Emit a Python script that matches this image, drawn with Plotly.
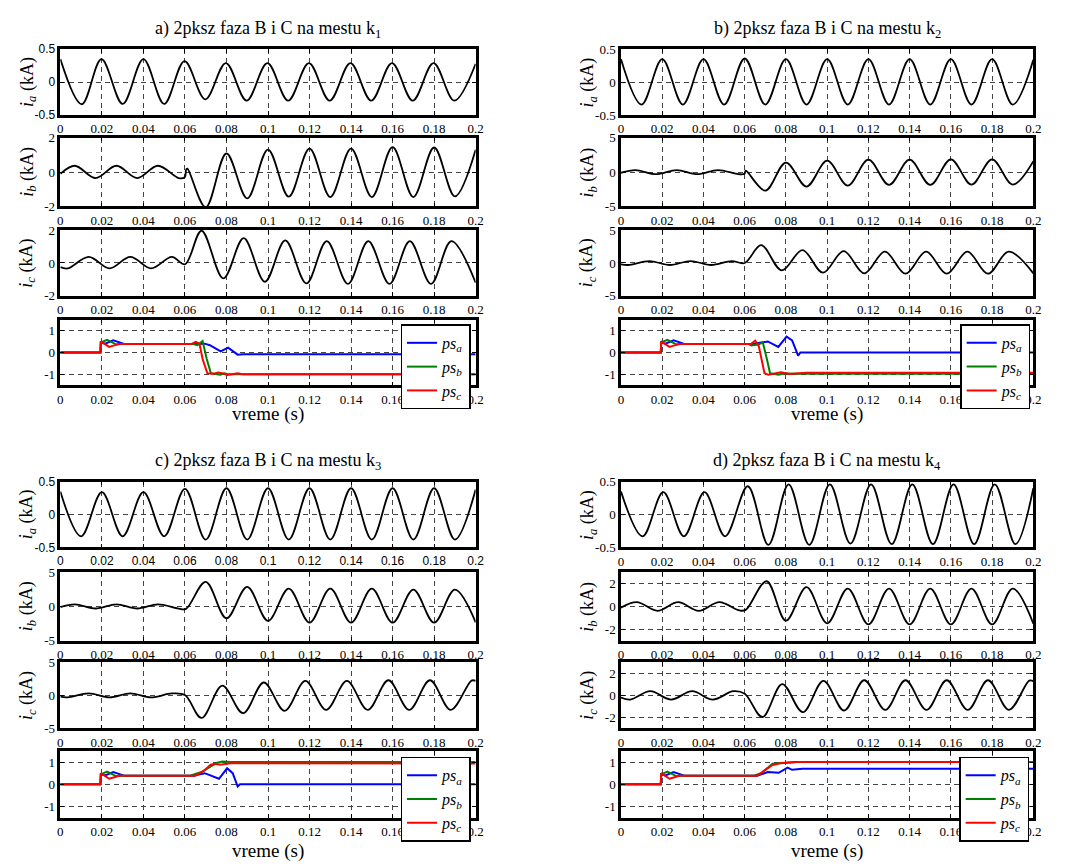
import plotly.graph_objects as go

# ------------------------------------------------------------------ data
x_tick_vals = [0, 0.02, 0.04, 0.06, 0.08, 0.1, 0.12, 0.14, 0.16, 0.18, 0.2]
x_tick_labels = ["0", "0.02", "0.04", "0.06", "0.08", "0.1", "0.12", "0.14", "0.16", "0.18", "0.2"]

panel_titles = [
    "a) 2pksz faza B i C na mestu k<sub>1</sub>",
    "b) 2pksz faza B i C na mestu k<sub>2</sub>",
    "c) 2pksz faza B i C na mestu k<sub>3</sub>",
    "d) 2pksz faza B i C na mestu k<sub>4</sub>",
]
current_labels = [
    "<i>i</i><sub><i>a</i></sub> (kA)",
    "<i>i</i><sub><i>b</i></sub> (kA)",
    "<i>i</i><sub><i>c</i></sub> (kA)",
]
ps_names = ["<i>ps</i><sub><i>a</i></sub>", "<i>ps</i><sub><i>b</i></sub>", "<i>ps</i><sub><i>c</i></sub>"]
x_label = "vreme (s)"

# y-axis limits / ticks per panel (ia, ib, ic)
ia_lim = [0.5, 0.5, 0.5, 0.5]
ib_lim = [2, 5, 5, 3]
ic_lim = [2, 5, 5, 3]
ia_ticks = [-0.5, 0, 0.5]
ia_tick_labels = ["-0.5", "0", "0.5"]
ibc_ticks = [[-2, 0, 2], [-5, 0, 5], [-5, 0, 5], [-2, 0, 2]]
ibc_tick_labels = [["-2", "0", "2"], ["-5", "0", "5"], ["-5", "0", "5"], ["-2", "0", "2"]]
ps_lim = 1.5
ps_ticks = [-1, 0, 1]
ps_tick_labels = ["-1", "0", "1"]

# ---- panel a (k1)
a_ia_t = [0, 0.0103, 0.0198, 0.030, 0.040, 0.050, 0.0598, 0.0698, 0.0797, 0.0897, 0.0997,
          0.1097, 0.1197, 0.1297, 0.1397, 0.1497, 0.1597, 0.1697, 0.1797, 0.1897, 0.2]
a_ia_v = [0.35, -0.335, 0.35, -0.33, 0.35, -0.33, 0.32, -0.26, 0.29, -0.28, 0.29,
          -0.28, 0.29, -0.28, 0.29, -0.28, 0.29, -0.28, 0.29, -0.28, 0.28]
a_ib_t = [0, 0.007, 0.017, 0.027, 0.037, 0.047, 0.057, 0.0599, 0.0606, 0.0612, 0.070,
          0.080, 0.090, 0.100, 0.110, 0.120, 0.130, 0.140, 0.150, 0.160, 0.170, 0.180, 0.190, 0.200]
a_ib_v = [-0.1, 0.37, -0.35, 0.37, -0.35, 0.37, -0.35, -0.3, 0.15, 0.2, -2.05,
          1.08, -1.53, 1.31, -1.43, 1.37, -1.45, 1.37, -1.45, 1.45, -1.45, 1.43, -1.41, 1.3]
a_ic_t = [0, 0.0035, 0.0137, 0.0237, 0.0337, 0.0437, 0.0537, 0.0600, 0.068, 0.0785, 0.0883,
          0.0985, 0.1083, 0.1185, 0.1283, 0.1385, 0.1483, 0.1585, 0.1683, 0.1785, 0.1883, 0.2]
a_ic_v = [-0.25, -0.33, 0.37, -0.33, 0.37, -0.33, 0.37, -0.08, 1.96, -0.94, 1.51,
          -1.14, 1.37, -1.24, 1.33, -1.27, 1.33, -1.27, 1.33, -1.27, 1.33, -1.2]
a_psa_t = [0, 0.0193, 0.0195, 0.0215, 0.0255, 0.029, 0.031, 0.064, 0.0695, 0.072, 0.0772, 0.0808, 0.0854, 0.088, 0.2]
a_psa_v = [0, 0, 0.45, 0.4, 0.55, 0.42, 0.38, 0.38, 0.4, 0.33, 0.05, 0.22, -0.1, -0.08, -0.08]
a_psb_t = [0, 0.0193, 0.0195, 0.0225, 0.027, 0.029, 0.064, 0.066, 0.0685, 0.0705, 0.0725, 0.075, 0.077, 0.079, 0.081, 0.2]
a_psb_v = [0, 0, 0.45, 0.57, 0.36, 0.38, 0.38, 0.33, 0.52, -0.3, -0.95, -0.98, -1.02, -0.95, -1.0, -1.0]
a_psc_t = [0, 0.0193, 0.0195, 0.0235, 0.026, 0.028, 0.063, 0.0652, 0.067, 0.0685, 0.0708, 0.074,
           0.076, 0.0785, 0.0805, 0.0835, 0.0855, 0.088, 0.2]
a_psc_v = [0, 0, 0.5, 0.25, 0.32, 0.38, 0.38, 0.48, 0.4, -0.3, -0.95, -0.97,
           -0.92, -0.96, -1.03, -0.97, -0.95, -1.0, -1.0]

# ---- panel b (k2)
b_ia_t = [0, 0.01, 0.02, 0.03, 0.04, 0.05, 0.06, 0.07, 0.08, 0.09, 0.1,
          0.11, 0.12, 0.13, 0.14, 0.15, 0.16, 0.17, 0.18, 0.19, 0.2]
b_ia_v = [0.35, -0.34, 0.35, -0.34, 0.35, -0.34, 0.36, -0.34, 0.35, -0.34, 0.35,
          -0.34, 0.35, -0.34, 0.35, -0.34, 0.35, -0.34, 0.35, -0.34, 0.34]
b_ib_t = [0, 0.007, 0.017, 0.027, 0.037, 0.047, 0.057, 0.0599, 0.0605, 0.070, 0.080, 0.090,
          0.100, 0.110, 0.120, 0.130, 0.140, 0.150, 0.160, 0.170, 0.180, 0.190, 0.200]
b_ib_v = [-0.1, 0.3, -0.3, 0.3, -0.3, 0.3, -0.3, -0.25, 0.2, -2.7, 1.37, -2.1,
          1.67, -1.96, 1.81, -1.86, 1.81, -1.86, 1.86, -1.81, 1.86, -1.81, 1.6]
b_ic_t = [0, 0.0035, 0.0137, 0.0237, 0.0337, 0.0437, 0.0537, 0.060, 0.068, 0.078, 0.088,
          0.098, 0.108, 0.118, 0.128, 0.138, 0.148, 0.158, 0.168, 0.178, 0.188, 0.2]
b_ic_v = [-0.2, -0.3, 0.3, -0.3, 0.3, -0.3, 0.3, 0.0, 2.7, -1.13, 1.96,
          -1.47, 1.81, -1.57, 1.72, -1.62, 1.72, -1.62, 1.72, -1.62, 1.72, -1.58]
b_psa_t = [0, 0.0193, 0.0195, 0.0215, 0.0255, 0.029, 0.031, 0.064, 0.0665, 0.0712, 0.0763, 0.0803, 0.083, 0.0859, 0.087, 0.2]
b_psa_v = [0, 0, 0.45, 0.4, 0.55, 0.42, 0.38, 0.38, 0.42, 0.5, 0.25, 0.72, 0.55, -0.15, 0.0, 0.0]
b_psb_t = [0, 0.0193, 0.0195, 0.0225, 0.027, 0.029, 0.062, 0.0632, 0.0665, 0.0688, 0.0705, 0.0723, 0.0765, 0.079, 0.083, 0.2]
b_psb_v = [0, 0, 0.45, 0.57, 0.36, 0.38, 0.38, 0.32, 0.36, 0.45, -0.2, -0.95, -1.02, -0.95, -0.97, -0.97]
b_psc_t = [0, 0.0193, 0.0195, 0.0235, 0.026, 0.028, 0.063, 0.0651, 0.0668, 0.0696, 0.0715, 0.0745, 0.0776, 0.0815, 0.09, 0.2]
b_psc_v = [0, 0, 0.5, 0.25, 0.32, 0.38, 0.38, 0.53, 0.3, -0.95, -1.02, -0.97, -0.9, -0.98, -0.93, -0.93]

# ---- panel c (k3)
c_ia_t = [0, 0.01, 0.02, 0.03, 0.04, 0.05, 0.06, 0.07, 0.08, 0.09, 0.1,
          0.11, 0.12, 0.13, 0.14, 0.15, 0.16, 0.17, 0.18, 0.19, 0.2]
c_ia_v = [0.35, -0.33, 0.34, -0.33, 0.34, -0.33, 0.39, -0.38, 0.40, -0.38, 0.40,
          -0.38, 0.40, -0.38, 0.40, -0.38, 0.40, -0.38, 0.40, -0.38, 0.38]
c_ib_t = [0, 0.007, 0.017, 0.027, 0.037, 0.047, 0.057, 0.0605, 0.070, 0.080, 0.090,
          0.100, 0.110, 0.120, 0.130, 0.140, 0.150, 0.160, 0.170, 0.180, 0.190, 0.200]
c_ib_v = [-0.1, 0.3, -0.3, 0.3, -0.3, 0.3, -0.3, -0.35, 3.58, -1.72, 2.84,
          -2.1, 2.6, -2.35, 2.6, -2.35, 2.6, -2.35, 2.45, -2.35, 2.45, -2.3]
c_ic_t = [0, 0.0035, 0.0137, 0.0237, 0.0337, 0.0437, 0.0537, 0.0600, 0.068, 0.078, 0.088,
          0.098, 0.108, 0.118, 0.128, 0.138, 0.148, 0.158, 0.168, 0.178, 0.188, 0.198, 0.2]
c_ic_v = [-0.2, -0.3, 0.3, -0.3, 0.3, -0.3, 0.3, 0.05, -3.43, 1.47, -2.7,
          1.96, -2.35, 2.2, -2.2, 2.2, -2.2, 2.3, -2.2, 2.3, -2.2, 2.25, 2.2]
c_psa_t = [0, 0.0193, 0.0195, 0.0215, 0.0255, 0.029, 0.031, 0.064, 0.0695, 0.0764, 0.0803, 0.083, 0.0854, 0.0865, 0.2]
c_psa_v = [0, 0, 0.45, 0.4, 0.55, 0.42, 0.38, 0.38, 0.5, 0.25, 0.72, 0.5, -0.1, 0.0, 0.0]
c_psb_t = [0, 0.0193, 0.0195, 0.0225, 0.027, 0.029, 0.062, 0.066, 0.068, 0.0725, 0.0756, 0.078, 0.082, 0.2]
c_psb_v = [0, 0, 0.45, 0.57, 0.36, 0.38, 0.38, 0.5, 0.55, 0.8, 0.97, 1.02, 1.0, 1.0]
c_psc_t = [0, 0.0193, 0.0195, 0.0235, 0.026, 0.028, 0.065, 0.069, 0.0724, 0.0745, 0.077, 0.082, 0.2]
c_psc_v = [0, 0, 0.5, 0.25, 0.32, 0.38, 0.38, 0.6, 0.88, 0.92, 0.88, 0.95, 0.93]

# ---- panel d (k4)
d_ia_t = [0, 0.0105, 0.0205, 0.0305, 0.0405, 0.0505, 0.0615, 0.0715, 0.0813, 0.0913, 0.1013,
          0.1113, 0.1213, 0.1313, 0.1413, 0.1513, 0.1613, 0.1713, 0.1813, 0.1913, 0.2]
d_ia_v = [0.35, -0.33, 0.34, -0.33, 0.34, -0.33, 0.43, -0.46, 0.46, -0.46, 0.46,
          -0.44, 0.46, -0.45, 0.46, -0.45, 0.46, -0.45, 0.46, -0.45, 0.4]
d_ib_t = [0, 0.0077, 0.0177, 0.0277, 0.0377, 0.0477, 0.0575, 0.0605, 0.0706, 0.080, 0.090,
          0.100, 0.110, 0.120, 0.130, 0.140, 0.150, 0.160, 0.170, 0.180, 0.190, 0.200]
d_ib_v = [-0.1, 0.38, -0.38, 0.38, -0.38, 0.38, -0.35, -0.3, 2.2, -1.24, 1.68,
          -1.47, 1.56, -1.56, 1.56, -1.56, 1.56, -1.56, 1.56, -1.56, 1.56, -1.5]
d_ic_t = [0, 0.0045, 0.0142, 0.0243, 0.0345, 0.0445, 0.0545, 0.0600, 0.0686, 0.0782, 0.0882,
          0.0982, 0.1082, 0.118, 0.1282, 0.138, 0.1482, 0.158, 0.1682, 0.178, 0.1882, 0.198, 0.2]
d_ic_v = [-0.2, -0.38, 0.38, -0.38, 0.38, -0.38, 0.38, 0.15, -1.97, 1.03, -1.53,
          1.32, -1.38, 1.38, -1.32, 1.38, -1.32, 1.38, -1.32, 1.38, -1.32, 1.35, 1.3]
d_psa_t = [0, 0.0193, 0.0195, 0.0215, 0.0255, 0.029, 0.031, 0.066, 0.0712, 0.0765, 0.0808, 0.083, 0.088, 0.2]
d_psa_v = [0, 0, 0.45, 0.4, 0.55, 0.42, 0.38, 0.38, 0.55, 0.52, 0.75, 0.65, 0.7, 0.7]
d_psb_t = [0, 0.0193, 0.0195, 0.0225, 0.027, 0.029, 0.064, 0.068, 0.0735, 0.08, 0.085, 0.2]
d_psb_v = [0, 0, 0.45, 0.57, 0.36, 0.38, 0.38, 0.5, 0.92, 0.97, 1.0, 1.0]
d_psc_t = [0, 0.0193, 0.0195, 0.0235, 0.026, 0.028, 0.066, 0.0731, 0.077, 0.08, 0.085, 0.2]
d_psc_v = [0, 0, 0.5, 0.25, 0.32, 0.38, 0.38, 0.85, 0.95, 0.98, 1.0, 1.0]

currents = [
    [(a_ia_t, a_ia_v), (a_ib_t, a_ib_v), (a_ic_t, a_ic_v)],
    [(b_ia_t, b_ia_v), (b_ib_t, b_ib_v), (b_ic_t, b_ic_v)],
    [(c_ia_t, c_ia_v), (c_ib_t, c_ib_v), (c_ic_t, c_ic_v)],
    [(d_ia_t, d_ia_v), (d_ib_t, d_ib_v), (d_ic_t, d_ic_v)],
]
ps_series = [
    [(a_psa_t, a_psa_v), (a_psb_t, a_psb_v), (a_psc_t, a_psc_v)],
    [(b_psa_t, b_psa_v), (b_psb_t, b_psb_v), (b_psc_t, b_psc_v)],
    [(c_psa_t, c_psa_v), (c_psb_t, c_psb_v), (c_psc_t, c_psc_v)],
    [(d_psa_t, d_psa_v), (d_psb_t, d_psb_v), (d_psc_t, d_psc_v)],
]

# ------------------------------------------------------------------ layout / style
W, H = 1072, 868
SERIF = "Liberation Serif, Times New Roman, serif"
SANS = "Liberation Sans, Arial, sans-serif"
ps_colors = ["#0000ff", "#008000", "#ff0000"]
col_px = [(58, 478), (625, 1042)]
row_px = [
    [(43, 110), (133, 203), (227, 294), (318, 385)],
    [(483, 550), (575, 645), (667, 734), (757, 825)],
]
title_y = [23, 463]
xlabel_y = [414, 859]
legend_pos = [(402, 323), (968, 323), (402, 763), (967, 763)]
# axes whose tick labels are rendered in a sans font in the reference
sans_y = {(0, 0), (2, 0)}
sans_x = {(2, 0)}

fig = go.Figure()
layout = dict(
    width=W, height=H, autosize=False,
    margin=dict(l=0, r=0, t=0, b=0),
    paper_bgcolor="white", plot_bgcolor="white",
    font=dict(family=SERIF, size=13, color="black"),
    showlegend=True,
)
annotations = []


def axis_common():
    return dict(
        showline=True, linecolor="black", linewidth=2.5, mirror="allticks",
        ticks="inside", ticklen=4, tickwidth=1, tickcolor="black",
        showgrid=True, gridcolor="#444444", gridwidth=1, griddash="5px,4px",
        zeroline=False, tickmode="array",
    )


for p in range(4):
    col, half = p % 2, p // 2
    x0, x1 = col_px[col]
    legend_name = "legend" if p == 0 else f"legend{p + 1}"
    for r in range(4):
        k = p * 4 + r + 1
        top, bot = row_px[half][r]
        xa = "xaxis" if k == 1 else f"xaxis{k}"
        ya = "yaxis" if k == 1 else f"yaxis{k}"
        xref = "x" if k == 1 else f"x{k}"
        yref = "y" if k == 1 else f"y{k}"

        xd = axis_common()
        xd.update(domain=[x0 / W, x1 / W], range=[0, 0.2], anchor=yref,
                  tickvals=x_tick_vals, ticktext=x_tick_labels,
                  tickfont=dict(family=SANS if (p, r) in sans_x else SERIF,
                                size=12 if (p, r) in sans_x else 13, color="black"))
        yd = axis_common()
        if r == 0:
            lim, tv, tt = ia_lim[p], ia_ticks, ia_tick_labels
        elif r == 1:
            lim, tv, tt = ib_lim[p], ibc_ticks[p], ibc_tick_labels[p]
        elif r == 2:
            lim, tv, tt = ic_lim[p], ibc_ticks[p], ibc_tick_labels[p]
        else:
            lim, tv, tt = ps_lim, ps_ticks, ps_tick_labels
        yd.update(domain=[1 - bot / H, 1 - top / H], range=[-lim, lim], anchor=xref,
                  tickvals=tv, ticktext=tt,
                  tickfont=dict(family=SANS if (p, r) in sans_y else SERIF,
                                size=12 if (p, r) in sans_y else 13, color="black"))
        layout[xa] = xd
        layout[ya] = yd

        if r < 3:
            t, v = currents[p][r]
            fig.add_trace(go.Scatter(
                x=t, y=v, mode="lines", xaxis=xref, yaxis=yref, showlegend=False,
                line=dict(color="black", width=1.8, shape="spline", smoothing=1.0),
                hoverinfo="skip"))
            annotations.append(dict(
                text=current_labels[r], x=(x0 - 33) / W, y=1 - (top + bot) / 2 / H,
                xref="paper", yref="paper", textangle=-90, showarrow=False,
                xanchor="center", yanchor="middle",
                font=dict(family=SERIF, size=18, color="black")))
        else:
            for j in range(3):
                t, v = ps_series[p][j]
                fig.add_trace(go.Scatter(
                    x=t, y=v, mode="lines", xaxis=xref, yaxis=yref, name=ps_names[j],
                    legend=legend_name, line=dict(color=ps_colors[j], width=2),
                    hoverinfo="skip"))

    lx, ly = legend_pos[p]
    layout[legend_name] = dict(
        x=lx / W, y=1 - ly / H, xanchor="left", yanchor="top",
        bgcolor="white", bordercolor="black", borderwidth=1.5,
        font=dict(family=SERIF, size=16, color="black"),
        itemwidth=30, tracegroupgap=0, traceorder="normal")
    annotations.append(dict(
        text=panel_titles[p], x=(x0 + x1) / 2 / W, y=1 - title_y[half] / H,
        xref="paper", yref="paper", showarrow=False, xanchor="center", yanchor="middle",
        font=dict(family=SERIF, size=18, color="black")))
    annotations.append(dict(
        text=x_label, x=(x0 + x1) / 2 / W, y=1 - xlabel_y[half] / H,
        xref="paper", yref="paper", showarrow=False, xanchor="center", yanchor="middle",
        font=dict(family=SERIF, size=19, color="black")))

layout["annotations"] = annotations
fig.update_layout(**layout)
fig.write_html(
    "out.html",
    config={"displayModeBar": False},
    post_script="document.body.style.margin='0';document.body.style.overflow='hidden';",
)
